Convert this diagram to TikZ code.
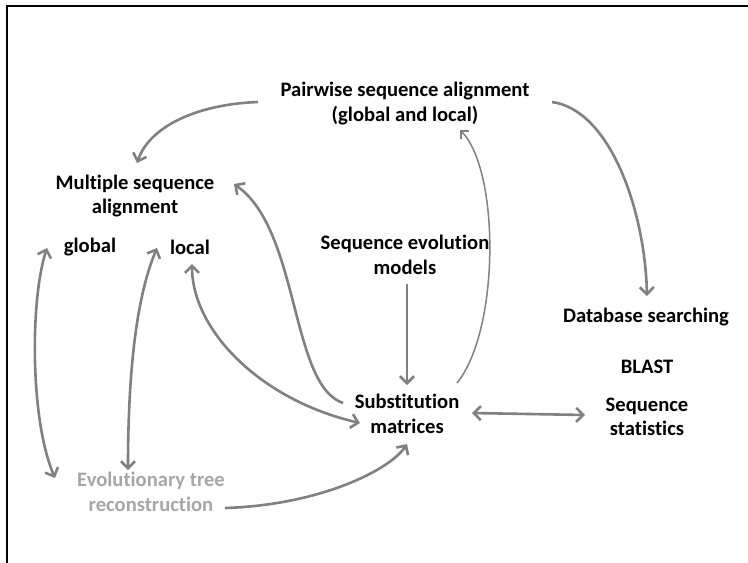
\documentclass[tikz,border=0pt]{standalone}
\usepackage{fontspec}
\setmainfont[Ligatures=NoCommon]{Carlito}
\usetikzlibrary{arrows.meta}
\definecolor{arr}{HTML}{808080}
\definecolor{lgray}{HTML}{A6A6A6}
\begin{document}
\begin{tikzpicture}[x=1pt,y=-1pt,
  lbl/.style={font=\fontsize{20.6}{24.5}\selectfont\bfseries, align=center, inner sep=0pt},
  conn/.style={draw=arr, line width=2.6pt, -{Straight Barb[length=7pt,width=14pt,line width=2.6pt]}},
  dconn/.style={draw=arr, line width=2.6pt, {Straight Barb[length=7pt,width=14pt,line width=2.6pt]}-{Straight Barb[length=7pt,width=14pt,line width=2.6pt]}},
  thin/.style={draw=arr, line width=1.5pt, -{Straight Barb[length=6pt,width=12pt,line width=1.8pt]}}]
\useasboundingbox (0,0) rectangle (748,563);
\draw[line width=2pt] (7,563) -- (7,6) -- (748,6);

\node[lbl] (pw) at (405,103.5) {Pairwise sequence alignment\\(global and local)};
\node[lbl] (msa) at (135,196) {Multiple sequence\\alignment};
\node[lbl] (glob) at (90,247) {global};
\node[lbl] (loc) at (190,247) {local};
\node[lbl] (sem) at (405,255) {Sequence evolution\\models};
\node[lbl] (sub) at (407,414) {Substitution\\matrices};
\node[lbl] (db) at (646,317) {Database searching};
\node[lbl] (blast) at (647,367) {BLAST};
\node[lbl] (ss) at (647,417) {Sequence\\statistics};
\node[lbl, text=lgray] (etr) at (151,492) {Evolutionary tree\\reconstruction};

\coordinate (pwL) at (258,102);
\coordinate (pwR) at (552,102);
\coordinate (pwB) at (460,130);
\coordinate (msaT) at (137,163);
\coordinate (msaR) at (234,184);
\coordinate (dbT) at (647,296);
\coordinate (semB) at (407,284);
\coordinate (subT) at (407,385);
\coordinate (subTR) at (457,383);
\coordinate (subL) at (343,403);
\coordinate (subLL) at (360,423);
\coordinate (subR) at (472,413);
\coordinate (subB) at (407,444);
\coordinate (ssL) at (585,415);
\coordinate (globL) at (47,248);
\coordinate (locL) at (157,248);
\coordinate (locB) at (192,264);
\coordinate (etrL) at (55,478);
\coordinate (etrT) at (128,470);
\coordinate (etrR) at (225,508);

\draw[conn] (pwL) .. controls (200,104) and (150,125) .. (msaT);
\draw[conn] (pwR) .. controls (610,110) and (645,210) .. (dbT);
\draw[thin] (subTR) .. controls (500,330) and (500,170) .. (pwB);
\draw[conn] (semB) -- (subT);
\draw[conn] (subL) .. controls (290,385) and (300,230) .. (msaR);
\draw[dconn] (locB) .. controls (192,330) and (260,400) .. (subLL);
\draw[dconn] (globL) .. controls (30,300) and (30,420) .. (etrL);
\draw[dconn] (locL) .. controls (135,300) and (128,380) .. (etrT);
\draw[conn] (etrR) .. controls (320,505) and (390,470) .. (subB);
\draw[dconn] (subR) -- (ssL);
\end{tikzpicture}
\end{document}
